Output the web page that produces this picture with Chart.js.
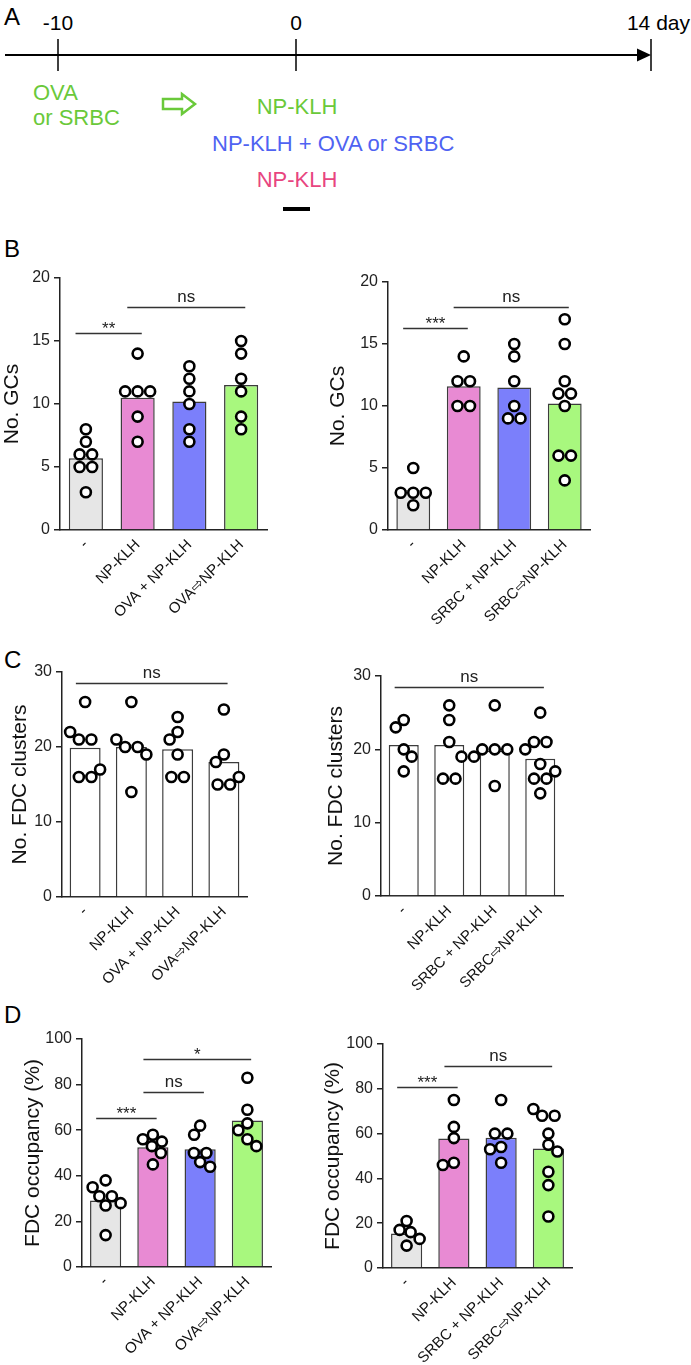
<!DOCTYPE html>
<html><head><meta charset="utf-8">
<script src="https://cdn.jsdelivr.net/npm/chart.js@4.4.1/dist/chart.umd.min.js"></script>
<style>
html,body{margin:0;padding:0;background:#fff;}
body{width:691px;height:1365px;position:relative;overflow:hidden;font-family:'Liberation Sans',Arial,sans-serif;}
canvas{position:absolute;}
.plab{position:absolute;font-size:24px;color:#000;line-height:1;}
svg{position:absolute;left:0;top:0;}
</style></head><body>
<svg width="691" height="225" viewBox="0 0 691 225" font-family="Liberation Sans, Arial, sans-serif">
  <text x="4" y="25" font-size="24">A</text>
  <text x="58" y="30" font-size="21" text-anchor="middle">-10</text>
  <text x="296" y="30" font-size="21" text-anchor="middle">0</text>
  <text x="690" y="30" font-size="21" text-anchor="end">14 day</text>
  <line x1="5" y1="55" x2="641" y2="55" stroke="#000" stroke-width="2"/>
  <polygon points="637,48.5 651,55 637,61.5" fill="#000"/>
  <line x1="58" y1="39" x2="58" y2="71" stroke="#000" stroke-width="1.5"/>
  <line x1="296" y1="39" x2="296" y2="71" stroke="#000" stroke-width="1.5"/>
  <line x1="651" y1="39" x2="651" y2="71" stroke="#000" stroke-width="1.5"/>
  <text x="33" y="100" font-size="22" fill="#6ac93a">OVA</text>
  <text x="33" y="125" font-size="22" fill="#6ac93a">or SRBC</text>
  <polygon points="163,99 182,99 182,94 195,104 182,114 182,109 163,109" fill="#fff" stroke="#6ac93a" stroke-width="2.5" stroke-linejoin="miter"/>
  <text x="297" y="114" font-size="22" fill="#6ac93a" text-anchor="middle">NP-KLH</text>
  <text x="212" y="151" font-size="22" fill="#4f63f2">NP-KLH + OVA or SRBC</text>
  <text x="297" y="187" font-size="22" fill="#e8457f" text-anchor="middle">NP-KLH</text>
  <rect x="283" y="207" width="27" height="4" fill="#000"/>
</svg>
<div class="plab" style="left:4px;top:237px;">B</div>
<div class="plab" style="left:4px;top:648px;">C</div>
<div class="plab" style="left:4px;top:1003px;">D</div>
<canvas id="bL"></canvas><canvas id="bR"></canvas>
<canvas id="cL"></canvas><canvas id="cR"></canvas>
<canvas id="dL"></canvas><canvas id="dR"></canvas>
<script>
// ---------- data ----------
const catsOVA = ['-', 'NP-KLH', 'OVA + NP-KLH', 'OVA\u21E8NP-KLH'];
const catsSRBC = ['-', 'NP-KLH', 'SRBC + NP-KLH', 'SRBC\u21E8NP-KLH'];

const gcTicks = [0, 5, 10, 15, 20];
const fdcTicks = [0, 10, 20, 30];
const occTicks = [0, 20, 40, 60, 80, 100];

const gcOvaMeans = [5.7, 10.5, 10.2, 11.5];
const gcOvaPoints = [[8, 7, 6, 6, 5, 5, 3], [14, 11, 11, 11, 9, 7], [13, 12, 11, 10, 8, 7], [15, 14, 12, 11, 9, 8]];
const gcSrbcMeans = [3.2, 11.6, 11.5, 10.2];
const gcSrbcPoints = [[5, 3, 3, 3, 2], [14, 12, 12, 10, 10], [15, 14, 12, 10, 9, 9], [17, 15, 12, 11, 11, 10, 6, 6, 4]];

const fdcOvaMeans = [19.9, 20.0, 19.7, 18.0];
const fdcOvaPoints = [[26, 22, 21, 21, 17, 16, 16], [26, 21, 20, 20, 19, 14], [24, 22, 21, 19, 16, 16], [25, 19, 18, 16, 15, 15]];
const fdcSrbcMeans = [20.6, 20.6, 19.8, 18.7];
const fdcSrbcPoints = [[24, 23, 20, 19, 17], [26, 24, 21, 16, 16], [26, 20, 20, 20, 19, 19, 15], [25, 21, 21, 20, 18, 17, 16, 16, 14]];

const occOvaMeans = [29.2, 52.5, 51.6, 64.2];
const occOvaPoints = [[38, 35, 31, 31, 28, 27, 14], [58, 56, 55, 53, 50, 45], [62, 58, 50, 50, 46, 44], [83, 69, 63, 60, 56, 53]];
const occSrbcMeans = [15.4, 57.8, 58.2, 53.3];
const occSrbcPoints = [[21, 17, 16, 13, 10], [75, 63, 58, 47, 46], [75, 60, 60, 54, 53, 47], [71, 68, 68, 60, 55, 52, 43, 37, 23]];

// significance brackets: group from, group to, level, label
const sigGcOva = [{from: 0, to: 1, y: 15.6, text: '**'}, {from: 1, to: 3, y: 17.7, text: 'ns'}];
const sigGcSrbc = [{from: 0, to: 1, y: 16.3, text: '***'}, {from: 1, to: 3, y: 18.0, text: 'ns'}];
const sigFdcOva = [{from: 0, to: 3, y: 28.5, text: 'ns'}];
const sigFdcSrbc = [{from: 0, to: 3, y: 28.5, text: 'ns'}];
const sigOccOva = [{from: 0, to: 1, y: 65.3, text: '***'}, {from: 1, to: 2, y: 76.8, text: 'ns'}, {from: 1, to: 3, y: 91.2, text: '*'}];
const sigOccSrbc = [{from: 0, to: 1, y: 80.8, text: '***'}, {from: 1, to: 3, y: 90.2, text: 'ns'}];

// ---------- styling ----------
const FAM = "'Liberation Sans', Arial, sans-serif";
const colorFills = ['#e6e6e6', '#e88ad3', '#7b7ffb', '#a8f87e'];
const whiteFills = ['#ffffff', '#ffffff', '#ffffff', '#ffffff'];

function sigPlugin(sigs) {
  return {
    id: 'sig',
    afterDatasetsDraw(chart) {
      const ctx = chart.ctx, xp = chart.scales.xp, y = chart.scales.y;
      ctx.save();
      ctx.strokeStyle = '#333'; ctx.lineWidth = 1.5; ctx.fillStyle = '#222';
      ctx.font = '17px ' + FAM; ctx.textAlign = 'center'; ctx.textBaseline = 'alphabetic';
      sigs.forEach(s => {
        const x1 = xp.getPixelForValue(s.from - 0.2), x2 = xp.getPixelForValue(s.to + 0.08);
        const py = Math.round(y.getPixelForValue(s.y)) + 0.5;
        ctx.beginPath(); ctx.moveTo(x1, py); ctx.lineTo(x2, py); ctx.stroke();
        const m = ctx.measureText(s.text);
        ctx.fillText(s.text, (x1 + x2) / 2, py - 6 - m.actualBoundingBoxDescent);
      });
      ctx.restore();
    }
  };
}

// beeswarm layout of the dots (pixel-based; values unchanged)
function swarm(chart, points) {
  const xp = chart.scales.xp, y = chart.scales.y;
  const pxPerCat = xp.getPixelForValue(1) - xp.getPixelForValue(0);
  const step = 12.5, minDist = 10.8;
  const out = [];
  points.forEach((vals, g) => {
    const placed = [];
    const rows = new Map();
    vals.forEach(v => rows.set(v, (rows.get(v) || 0) + 1));
    // rows with repeated values first, then by value (top down)
    const keys = [...rows.keys()].sort((a, b) => (rows.get(b) - rows.get(a)) || (b - a));
    let sign = -1;
    keys.forEach(v => {
      const k = rows.get(v), py = y.getPixelForValue(v);
      for (let t = 0; t < 120; t++) {
        const s = t === 0 ? 0 : (t % 2 ? sign : -sign) * Math.ceil(t / 2) * 1;
        const xs = [];
        for (let i = 0; i < k; i++) xs.push(s + (i - (k - 1) / 2) * step);
        if (xs.every(px => placed.every(p => Math.hypot(p.px - px, p.py - py) >= minDist))) {
          xs.forEach(px => { placed.push({px, py}); out.push({x: g + px / pxPerCat, y: v}); });
          if (s !== 0) sign = s > 0 ? -1 : 1;
          break;
        }
      }
    });
  });
  chart.data.datasets[0].data = out;
  chart.update('none');
}

function makeChart(id, box, o) {
  const cv = document.getElementById(id);
  cv.style.left = box.L + 'px'; cv.style.top = box.T + 'px';
  cv.width = box.W; cv.height = box.H;
  cv.style.width = box.W + 'px'; cv.style.height = box.H + 'px';
  const ticks = o.ticks;
  const chart = new Chart(cv, {
    data: {
      labels: o.labels,
      datasets: [
        {type: 'scatter', xAxisID: 'xp', yAxisID: 'y', data: [], pointRadius: 5, pointHoverRadius: 5,
         pointBorderWidth: 2.6, borderColor: '#000', backgroundColor: '#fff', order: 1},
        {type: 'bar', xAxisID: 'x', yAxisID: 'y', data: o.means, backgroundColor: o.fills, grouped: false,
         borderColor: '#3c3c3c', borderWidth: 1.5, barPercentage: o.bp, categoryPercentage: 1, order: 2}
      ]
    },
    options: {
      responsive: false, animation: false, events: [],
      layout: {padding: {top: 20, right: 8, bottom: 0, left: 0}},
      plugins: {legend: {display: false}, tooltip: {enabled: false}},
      scales: {
        x: {type: 'category', offset: true,
            grid: {display: false, drawTicks: false},
            border: {display: true, color: '#222', width: 1.5},
            ticks: {color: '#111', font: {size: 15, family: FAM}, minRotation: 45, maxRotation: 45, padding: 6, autoSkip: false},
            afterFit: s => { s.height = box.xH; }},
        xp: {type: 'linear', display: false, min: -0.5, max: 3.5},
        y: {type: 'linear', min: ticks[0], max: ticks[ticks.length - 1],
            ticks: {stepSize: ticks[1] - ticks[0], color: '#222', font: {size: 16, family: FAM}, padding: 4},
            grid: {drawOnChartArea: false, drawTicks: true, tickLength: 6, color: '#222', lineWidth: 1.5},
            border: {display: true, color: '#222', width: 1.5},
            title: {display: true, text: o.title, color: '#111', font: {size: 21, family: FAM}, padding: 0},
            afterFit: s => { s.width = box.yW; }}
      }
    },
    plugins: [sigPlugin(o.sigs)]
  });
  swarm(chart, o.points);
  return chart;
}

makeChart('bL', {L: 0, T: 258, W: 275, H: 382, yW: 60, xH: 110},
  {labels: catsOVA, means: gcOvaMeans, points: gcOvaPoints, ticks: gcTicks, fills: colorFills, bp: 0.66, title: 'No. GCs', sigs: sigGcOva});
makeChart('bR', {L: 326, T: 262, W: 272, H: 378, yW: 62, xH: 110},
  {labels: catsSRBC, means: gcSrbcMeans, points: gcSrbcPoints, ticks: gcTicks, fills: colorFills, bp: 0.67, title: 'No. GCs', sigs: sigGcSrbc});
makeChart('cL', {L: 8, T: 652, W: 247, H: 355, yW: 54, xH: 110},
  {labels: catsOVA, means: fdcOvaMeans, points: fdcOvaPoints, ticks: fdcTicks, fills: whiteFills, bp: 0.67, title: 'No. FDC clusters', sigs: sigFdcOva});
makeChart('cR', {L: 324, T: 656, W: 247, H: 350, yW: 57, xH: 110},
  {labels: catsSRBC, means: fdcSrbcMeans, points: fdcSrbcPoints, ticks: fdcTicks, fills: whiteFills, bp: 0.66, title: 'No. FDC clusters', sigs: sigFdcSrbc});
makeChart('dL', {L: 21, T: 1019, W: 258, H: 346, yW: 61, xH: 98},
  {labels: catsOVA, means: occOvaMeans, points: occOvaPoints, ticks: occTicks, fills: colorFills, bp: 0.66, title: 'FDC occupancy (%)', sigs: sigOccOva});
makeChart('dR', {L: 321, T: 1024, W: 259, H: 341, yW: 62, xH: 97},
  {labels: catsSRBC, means: occSrbcMeans, points: occSrbcPoints, ticks: occTicks, fills: colorFills, bp: 0.66, title: 'FDC occupancy (%)', sigs: sigOccSrbc});
</script>
</body></html>
